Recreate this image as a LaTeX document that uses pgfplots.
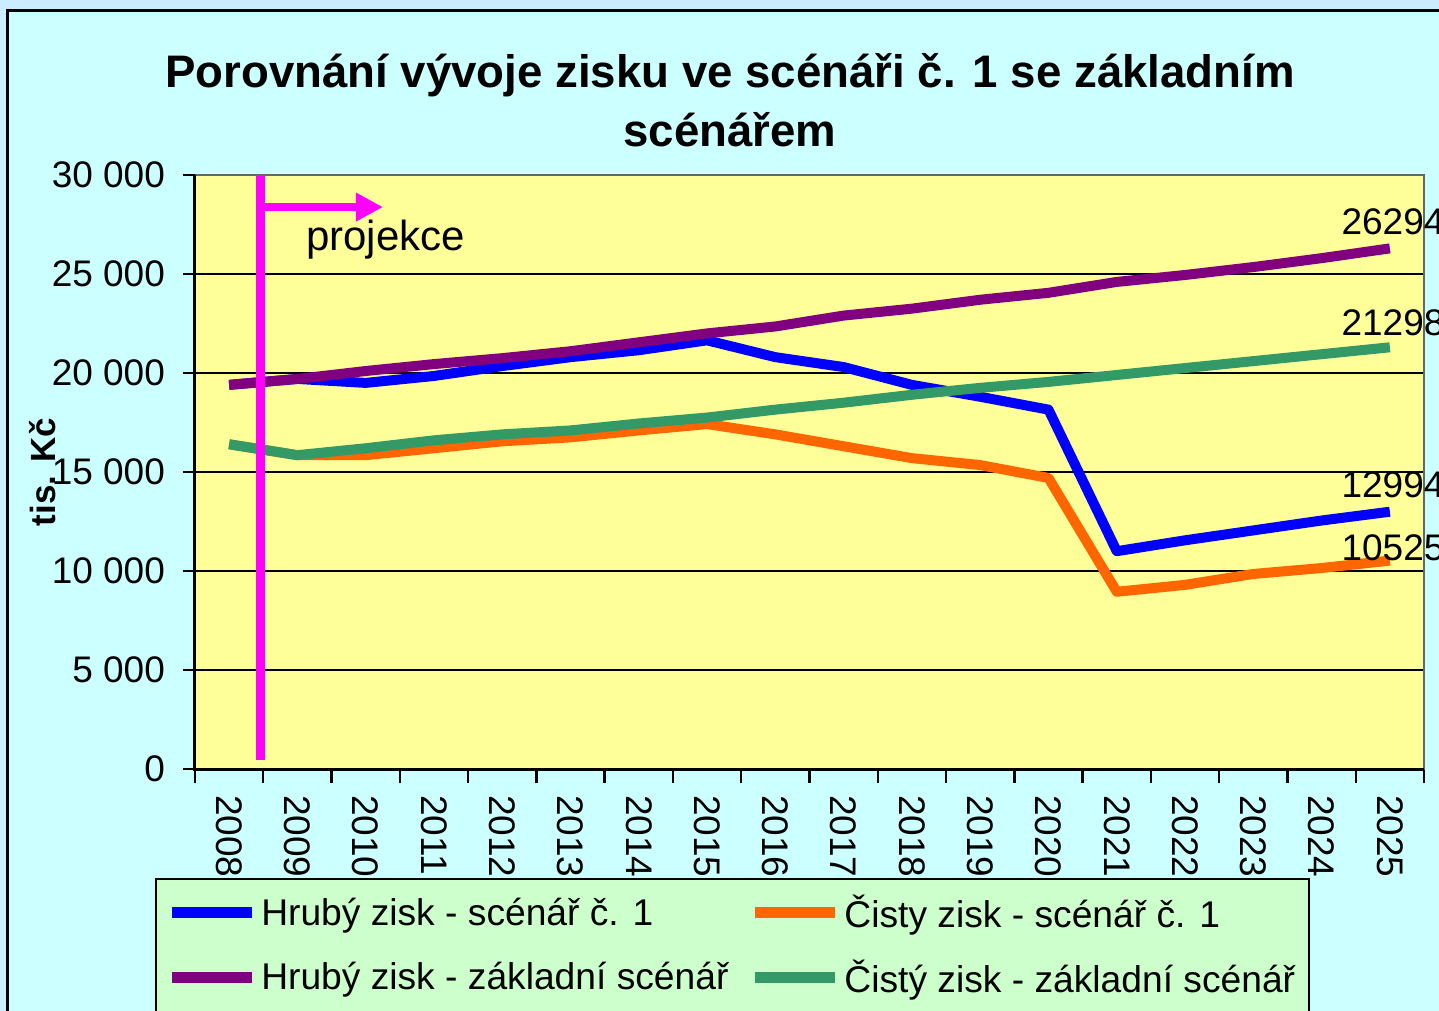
\documentclass[border=0pt]{standalone}
\usepackage{fontspec}
\setmainfont{Liberation Sans}
\usepackage{pgfplots}
\usepackage{pgfplotstable}
\pgfplotsset{compat=1.18}
\usetikzlibrary{arrows.meta}

\definecolor{bgouter}{RGB}{204,236,255}
\definecolor{bgcyan}{RGB}{204,255,255}
\definecolor{plotyellow}{RGB}{255,255,153}
\definecolor{leggreen}{RGB}{204,255,204}
\definecolor{sblue}{RGB}{0,0,255}
\definecolor{sorange}{RGB}{255,102,0}
\definecolor{spurple}{RGB}{128,0,128}
\definecolor{sgreen}{RGB}{51,153,102}
\definecolor{projmag}{RGB}{255,0,255}

% idx 0 = 2008 ... 17 = 2025
\pgfplotstableread{
idx hs1   cs1   hz    cz
0   19400 16400 19400 16400
1   19700 15850 19700 15850
2   19500 15850 20100 16200
3   19850 16200 20450 16600
4   20350 16550 20750 16900
5   20800 16750 21100 17100
6   21150 17100 21550 17450
7   21650 17420 22000 17750
8   20800 16900 22350 18150
9   20300 16300 22900 18500
10  19400 15700 23250 18900
11  18800 15350 23700 19250
12  18150 14700 24050 19550
13  11000 8950  24600 19900
14  11550 9300  24950 20250
15  12050 9850  25350 20600
16  12550 10150 25800 20950
17  12994 10525 26294 21298
}\zisk

\begin{document}
\begin{tikzpicture}
% pozadi a ramecek
\fill[bgouter] (-97.5pt,-121pt) rectangle (622pt,384.5pt);
\fill[bgcyan] (-93.5pt,-130pt) rectangle (640pt,379pt);
\draw[black, line width=1.5pt] (-93.5pt,-130pt) -- (-93.5pt,379pt) -- (640pt,379pt);

\begin{axis}[
    at={(0pt,0pt)}, anchor=south west,
    scale only axis, width=614.5pt, height=297pt,
    xmin=-0.5, xmax=17.5, ymin=0, ymax=30000,
    clip=false,
    scaled y ticks=false,
    axis background/.style={fill=plotyellow},
    axis line style={draw=gray!80!black, line width=1pt},
    tick align=outside, xtick pos=bottom, ytick pos=left,
    xtick={0,...,17},
    xticklabels={2008,2009,2010,2011,2012,2013,2014,2015,2016,2017,2018,2019,2020,2021,2022,2023,2024,2025},
    major x tick style={draw=none},
    minor xtick={-0.5,0.5,...,17.5},
    minor tick length=7pt, major tick length=6pt,
    tick style={black, line width=1.2pt},
    xticklabel shift=3.5pt,
    xticklabel style={rotate=-90, anchor=west, font=\fontsize{18.5}{22}\selectfont},
    ytick={0,5000,10000,15000,20000,25000},
    yticklabels={0,5 000,10 000,15 000,20 000,25 000},
    extra y ticks={30000}, extra y tick labels={30 000},
    extra y tick style={grid=none},
    yticklabel shift=5.5pt,
    yticklabel style={font=\fontsize{18.5}{22}\selectfont},
    ymajorgrids, grid style={black, line width=1.2pt},
    title={Porovnání vývoje zisku ve scénáři č. 1 se základním\\scénářem},
    title style={at={(axis description cs:0.4353,1.106)}, anchor=center, align=center,
        font=\bfseries\fontsize{22.8}{29.5}\selectfont},
    ylabel={tis. Kč},
    ylabel style={at={(axis description cs:-0.1237,0.5)}, anchor=center,
        font=\bfseries\fontsize{17.5}{21}\selectfont},
    legend columns=2,
    legend style={at={(rel axis cs:-0.0325,-0.1835)}, anchor=north west,
        draw=black, line width=1.2pt, fill=leggreen,
        font=\fontsize{18.6}{22.5}\selectfont,
        /tikz/every even column/.append style={column sep=8.5pt},
        inner xsep=5pt, inner ysep=6pt, row sep=10.5pt},
    legend cell align=left,
    legend image code/.code={\draw[#1, line width=5.5pt] (0pt,0pt) -- (40pt,0pt);},
]
\addplot[sblue, line width=5pt, line join=round] table[x=idx, y=hs1] {\zisk}
    node[pos=1, anchor=base west, xshift=-30pt, yshift=7pt, text=black, font=\fontsize{18.5}{22}\selectfont] {12994};
\addlegendentry{Hrubý zisk - scénář č. 1}
\addplot[sorange, line width=5pt, line join=round] table[x=idx, y=cs1] {\zisk}
    node[pos=1, anchor=base west, xshift=-30pt, yshift=0pt, text=black, font=\fontsize{18.5}{22}\selectfont] {10525};
\addlegendentry{Čisty zisk - scénář č. 1}
\addplot[spurple, line width=5pt, line join=round] table[x=idx, y=hz] {\zisk}
    node[pos=1, anchor=base west, xshift=-30pt, yshift=7pt, text=black, font=\fontsize{18.5}{22}\selectfont] {26294};
\addlegendentry{Hrubý zisk - základní scénář}
\addplot[sgreen, line width=5pt, line join=round] table[x=idx, y=cz] {\zisk}
    node[pos=1, anchor=base west, xshift=-30pt, yshift=6pt, text=black, font=\fontsize{18.5}{22}\selectfont] {21298};
\addlegendentry{Čistý zisk - základní scénář}
% prazdny radek, aby spodni okraj legendy lezel mimo obrazek
\addlegendimage{empty legend}\addlegendentry{}
\addlegendimage{empty legend}\addlegendentry{\hspace{6pt}}

% projekce
\draw[projmag, line width=4.5pt] (axis cs:0.466,30000) -- (axis cs:0.466,450);
\draw[projmag, line width=4pt, -{Triangle[length=13.5pt,width=13.5pt]}]
    (axis cs:0.466,28380) -- (axis cs:2.253,28380);
\node[anchor=base west, font=\fontsize{21}{25}\selectfont] at (axis cs:1.023,26212) {projekce};

% leva a spodni osa cerne
\draw[black, line width=1.5pt] (rel axis cs:0,1) -- (rel axis cs:0,0) -- (rel axis cs:1,0);
\end{axis}

\pgfresetboundingbox
\useasboundingbox (-97.5pt,-121pt) rectangle (622pt,384.5pt);
\end{tikzpicture}
\end{document}
